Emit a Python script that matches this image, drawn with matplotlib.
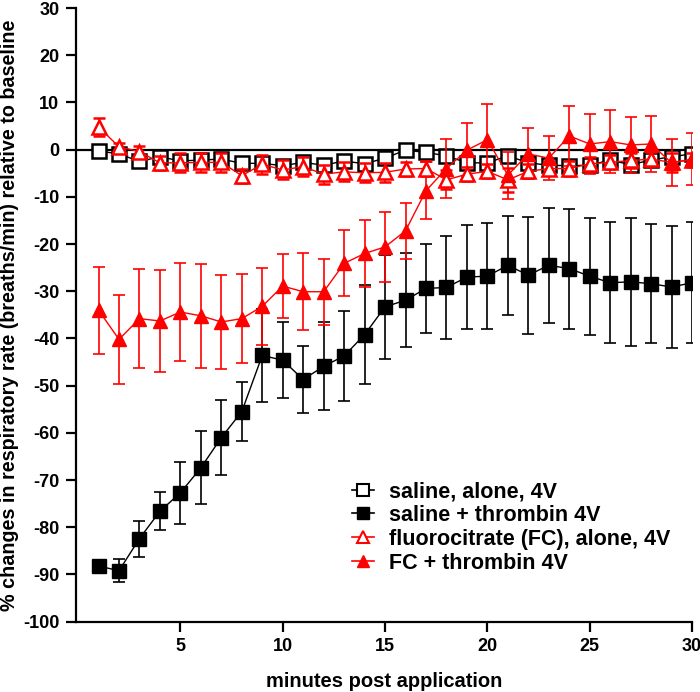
import matplotlib.pyplot as plt
from matplotlib.lines import Line2D

minutes = list(range(1, 31))

saline_alone = [-0.3, -0.9, -2.5, -1.5, -2.4, -2.2, -2.0, -2.9, -2.9, -3.4,
                -2.7, -3.3, -2.4, -3.0, -1.8, -0.1, -0.6, -1.3, -2.8, -2.8,
                -1.3, -2.8, -3.3, -3.4, -3.3, -2.2, -3.2, -2.2, -1.5, -0.9]
saline_alone_err = [0.8, 0.8, 0.8, 0.8, 0.8, 0.8, 0.8, 0.8, 0.8, 0.8,
                    0.8, 0.8, 0.8, 0.8, 0.8, 0.8, 0.8, 0.8, 0.8, 0.8,
                    0.8, 0.8, 0.8, 0.8, 0.8, 0.8, 0.8, 0.8, 0.8, 0.8]

saline_thrombin = [-88.2, -89.2, -82.4, -76.6, -72.7, -67.4, -61.0, -55.5, -43.6, -44.6,
                   -48.7, -45.9, -43.7, -39.2, -33.3, -31.9, -29.4, -29.2, -27.0, -26.8,
                   -24.5, -26.6, -24.5, -25.2, -26.8, -28.2, -28.0, -28.4, -29.1, -28.2]
saline_thrombin_err = [1.0, 2.4, 3.8, 4.0, 6.6, 7.7, 8.0, 6.3, 9.8, 8.0,
                       7.0, 9.3, 9.5, 10.5, 11.0, 10.0, 9.5, 11.0, 11.0, 11.2,
                       10.5, 12.4, 12.2, 12.7, 12.4, 12.8, 13.5, 12.6, 12.9, 12.8]

fc_alone = [4.8, 0.6, -0.4, -2.8, -2.8, -2.7, -2.7, -5.5, -3.1, -4.3,
            -3.6, -5.2, -4.7, -4.9, -4.8, -4.1, -4.0, -6.4, -5.2, -4.6,
            -6.4, -4.6, -4.0, -4.0, -3.0, -2.7, -2.3, -2.0, -2.7, -2.2]
fc_alone_err = [2.0, 0.8, 1.2, 1.5, 2.0, 2.0, 2.0, 1.5, 2.0, 2.0,
                2.0, 2.0, 2.0, 2.0, 2.0, 1.5, 1.5, 2.0, 1.5, 1.5,
                2.5, 1.5, 1.0, 1.5, 1.5, 1.5, 1.5, 1.5, 2.0, 1.5]

fc_thrombin = [-34.0, -40.2, -35.8, -36.3, -34.4, -35.2, -36.5, -35.8, -33.2, -28.9,
               -30.1, -30.1, -24.1, -22.0, -20.6, -17.2, -8.7, -4.0, -0.1, 2.1,
               -5.4, -0.9, -1.8, 2.9, 1.2, 1.7, 1.0, 1.2, -2.8, -2.0]
fc_thrombin_err = [9.2, 9.5, 10.5, 10.7, 10.3, 11.0, 10.0, 9.5, 8.2, 6.7,
                   8.1, 7.0, 7.0, 7.0, 7.4, 6.0, 6.0, 6.2, 5.8, 7.5,
                   5.0, 5.4, 4.7, 6.4, 6.4, 6.6, 5.9, 6.0, 5.0, 5.5]

labels = ["saline, alone, 4V", "saline + thrombin 4V",
          "fluorocitrate (FC), alone, 4V", "FC + thrombin 4V"]

plt.rcParams["font.family"] = ["Liberation Sans", "DejaVu Sans"]
plt.rcParams["font.weight"] = "bold"
plt.rcParams["axes.unicode_minus"] = False

fig = plt.figure(figsize=(7.0, 6.92), dpi=100)
ax = fig.add_axes([0.1086, 0.1016, 0.88, 0.8868])

ax.axhline(0, color="black", lw=1.6, zorder=1)

common = dict(capsize=4.5, elinewidth=1.2, capthick=1.2, lw=1.0, markersize=10)
ax.errorbar(minutes, saline_alone, yerr=saline_alone_err, color="black", marker="s",
            mfc="white", mec="black", mew=1.8, zorder=3, **common)
ax.errorbar(minutes, saline_thrombin, yerr=saline_thrombin_err, color="black", marker="s",
            mfc="black", mec="black", zorder=3, **common)
ax.errorbar(minutes, fc_alone, yerr=fc_alone_err, color="red", marker="^",
            mfc="white", mec="red", mew=1.8, zorder=4, **common)
ax.errorbar(minutes, fc_thrombin, yerr=fc_thrombin_err, color="red", marker="^",
            mfc="red", mec="red", zorder=4, **common)

ax.set_xlim(-0.1, 30)
ax.set_ylim(-100, 30)
ax.set_xticks([5, 10, 15, 20, 25, 30])
ax.set_yticks(range(-100, 31, 10))
ax.tick_params(labelsize=13, width=1.6, length=7, pad=5)
for lab in ax.get_xticklabels() + ax.get_yticklabels():
    lab.set_fontweight("bold")

ax.spines["top"].set_visible(False)
ax.spines["right"].set_visible(False)
ax.spines["left"].set_linewidth(1.6)
ax.spines["bottom"].set_linewidth(1.6)

ax.set_xlabel("minutes post application", fontsize=14.5, fontweight="bold", labelpad=12)
ax.set_ylabel("% changes in respiratory rate (breaths/min) relative to baseline",
              fontsize=14.2, fontweight="bold", labelpad=3)

handles = [
    Line2D([], [], color="black", lw=1.2, marker="s", ms=8, mfc="white", mec="black", mew=1.5),
    Line2D([], [], color="black", lw=1.2, marker="s", ms=8, mfc="black", mec="black"),
    Line2D([], [], color="red", lw=1.2, marker="^", ms=8, mfc="white", mec="red", mew=1.5),
    Line2D([], [], color="red", lw=1.2, marker="^", ms=8, mfc="red", mec="red"),
]
leg = ax.legend(handles, labels, loc="upper left", bbox_to_anchor=(0.448, 0.229),
                frameon=False, fontsize=15.5, handlelength=1.0, handletextpad=0.7,
                labelspacing=0.13, borderpad=0, borderaxespad=0)
for t in leg.get_texts():
    t.set_fontweight("bold")

fig.savefig("out.png", dpi=100)
